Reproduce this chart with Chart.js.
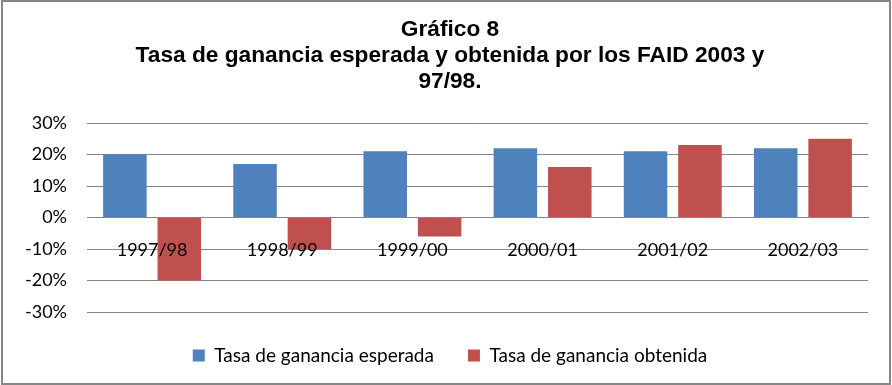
<!DOCTYPE html>
<html>
<head>
<meta charset="utf-8">
<script src="https://cdn.jsdelivr.net/npm/chart.js@4.4.1/dist/chart.umd.min.js"></script>
<style>
html,body{margin:0;padding:0;background:#fff;}
#wrap{position:relative;width:892px;height:385px;}
</style>
</head>
<body>
<div id="wrap"><canvas id="c" width="892" height="385"></canvas></div>
<script>
const categories = ['1997/98','1998/99','1999/00','2000/01','2001/02','2002/03'];
const esperada = [20, 17, 21, 22, 21, 22];
const obtenida = [-20, -10, -6, 16, 23, 25];
const yTicks = [-30, -20, -10, 0, 10, 20, 30];
const seriesNames = ['Tasa de ganancia esperada', 'Tasa de ganancia obtenida'];
const titleLines = ['Gráfico 8', 'Tasa de ganancia esperada y obtenida por los FAID 2003 y', '97/98.'];

const frame = {
  id: 'frame',
  afterDraw(chart) {
    const ctx = chart.ctx;
    ctx.save();
    ctx.strokeStyle = '#868686';
    ctx.lineWidth = 2;
    ctx.strokeRect(2, 1, 888, 383);
    ctx.restore();
  }
};

new Chart(document.getElementById('c'), {
  type: 'bar',
  data: {
    labels: categories,
    datasets: [
      { label: seriesNames[0], data: esperada, backgroundColor: '#4F81BD', categoryPercentage: 0.836, barPercentage: 0.8 },
      { label: seriesNames[1], data: obtenida, backgroundColor: '#C0504D', categoryPercentage: 0.836, barPercentage: 0.8 }
    ]
  },
  options: {
    responsive: false,
    animation: false,
    layout: { padding: { left: 32, right: 24, top: 0, bottom: 10 } },
    plugins: {
      title: {
        display: true,
        text: titleLines,
        color: '#000',
        font: { family: 'Liberation Sans', size: 22.7, weight: 'bold', lineHeight: '26px' },
        padding: { top: 17, bottom: 28 }
      },
      legend: {
        position: 'bottom',
        labels: {
          color: '#000',
          boxWidth: 12,
          boxHeight: 12,
          padding: 34,
          font: { family: 'Lato', size: 19 }
        }
      },
      tooltip: { enabled: false }
    },
    scales: {
      x: {
        position: { y: 0 },
        grid: { display: false, drawTicks: false },
        border: { display: true, color: '#868686', width: 1, z: 1 },
        ticks: { z: 1, color: '#000', padding: 22, font: { family: 'Lato', size: 18 } }
      },
      y: {
        min: -30, max: 30,
        afterFit(scale) {
          scale.width = 55;
          scale._computeLabelArea = function () { return undefined; };
        },
        afterBuildTicks(scale) { scale.ticks = yTicks.map(v => ({ value: v })); },
        grid: { color: '#868686', drawTicks: false, tickLength: 0 },
        border: { display: false },
        ticks: { color: '#000', padding: 20, font: { family: 'Lato', size: 18 }, callback: v => v + '%' }
      }
    }
  },
  plugins: [frame]
});
</script>
</body>
</html>
